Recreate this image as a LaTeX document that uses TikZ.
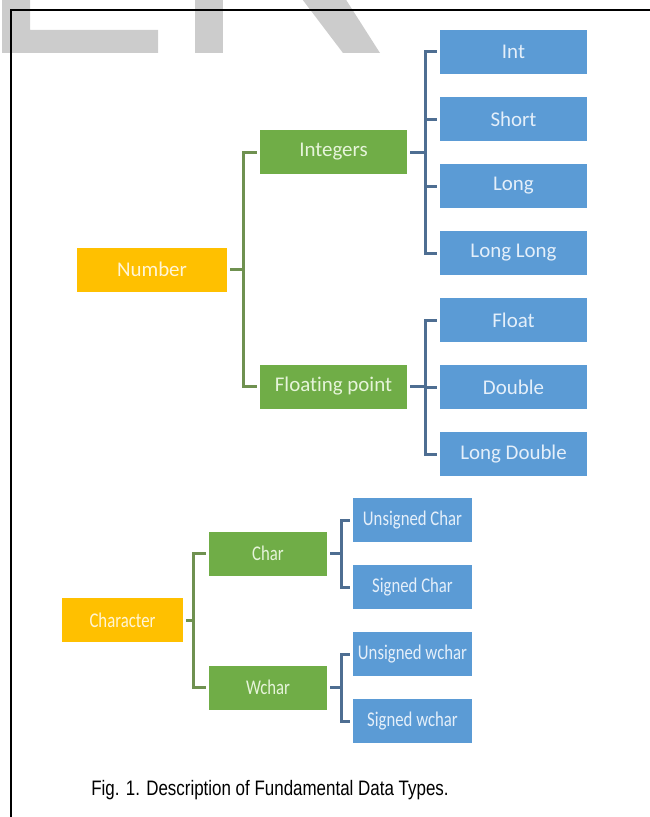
\documentclass[tikz,border=0pt]{standalone}
\usepackage{fontspec}
\setmainfont{Liberation Sans}
\newfontfamily\boxfont[Ligatures=NoCommon]{Carlito}
\newfontfamily\narrowboxfont[FakeStretch=0.8, Ligatures=NoCommon]{Carlito}
\newfontfamily\capfont[FakeStretch=0.81]{Liberation Sans}
\definecolor{typeorange}{HTML}{FFC000}
\definecolor{typeorangetext}{HTML}{FFF5D6}
\definecolor{typegreen}{HTML}{70AD47}
\definecolor{typegreentext}{HTML}{E6F4DA}
\definecolor{typeblue}{HTML}{5B9BD5}
\definecolor{typebluetext}{HTML}{E4EFFA}
\definecolor{typegreenline}{HTML}{6F9150}
\definecolor{typeblueline}{HTML}{4E6E92}
\definecolor{typemark}{HTML}{CCCCCC}

\begin{document}
\begin{tikzpicture}[x=1bp, y=-1bp,
  tbox/.style={inner sep=0pt, minimum height=44bp, font=\boxfont\fontsize{21}{23}\selectfont},
  tsmall/.style={font=\narrowboxfont\fontsize{21}{23}\selectfont},
  root/.style={tbox, fill=typeorange, text=typeorangetext},
  mid/.style={tbox, fill=typegreen, text=typegreentext},
  leaf/.style={tbox, fill=typeblue, text=typebluetext},
  gline/.style={draw=typegreenline, line width=3bp},
  bline/.style={draw=typeblueline, line width=3bp}
]
\useasboundingbox (0,0) rectangle (650,817);
\fill[typemark] (2,-5) -- (30,-5) -- (30,30) -- (158,30) -- (158,53) -- (2,53) -- cycle;
\fill[typemark] (195,-5) rectangle (223,53);
\fill[typemark] (299,-5) -- (343,-5) -- (380,53) -- (343,53) -- cycle;
\draw[line width=2bp] (11,818) -- (11,10) -- (651,10);

\node[root, minimum width=150bp] (num) at (152,269.5) {Number};
\node[mid, minimum width=147bp] (intg) at (333.5,152) {Integers};
\node[mid, minimum width=147bp] (flt) at (333.5,386.5) {Floating point};
\node[leaf, minimum width=147bp] (t1) at (513.5,52) {Int};
\node[leaf, minimum width=147bp] (t2) at (513.5,119) {Short};
\node[leaf, minimum width=147bp] (t3) at (513.5,186) {Long};
\node[leaf, minimum width=147bp] (t4) at (513.5,253) {Long Long};
\node[leaf, minimum width=147bp] (t5) at (513.5,320) {Float};
\node[leaf, minimum width=147bp] (t6) at (513.5,387) {Double};
\node[leaf, minimum width=147bp] (t7) at (513.5,454) {Long Double};

\node[root, tsmall, minimum width=121bp] (chr) at (122.5,620) {Character};
\node[mid, tsmall, minimum width=118bp] (ch) at (268,553.5) {Char};
\node[mid, tsmall, minimum width=118bp] (wch) at (268,687.5) {Wchar};
\node[leaf, tsmall, minimum width=119bp] (c1) at (412.5,520) {Unsigned Char};
\node[leaf, tsmall, minimum width=119bp] (c2) at (412.5,587) {Signed Char};
\node[leaf, tsmall, minimum width=119bp] (c3) at (412.5,654) {Unsigned wchar};
\node[leaf, tsmall, minimum width=119bp] (c4) at (412.5,721) {Signed wchar};

\foreach \n in {intg,flt}
  \draw[gline] ([xshift=3bp]num.east) -- ++(13,0) |- ([xshift=-3bp]\n.west);
\foreach \n in {t1,t2,t3,t4}
  \draw[bline] ([xshift=3bp]intg.east) -- ++(15,0) |- ([xshift=-3bp]\n.west);
\foreach \n in {t5,t6,t7}
  \draw[bline] ([xshift=3bp]flt.east) -- ++(15,0) |- ([xshift=-3bp]\n.west);
\foreach \n in {ch,wch}
  \draw[gline] ([xshift=3bp]chr.east) -- ++(7,0) |- ([xshift=-3bp]\n.west);
\foreach \n in {c1,c2}
  \draw[bline] ([xshift=3bp]ch.east) -- ++(11,0) |- ([xshift=-3bp]\n.west);
\foreach \n in {c3,c4}
  \draw[bline] ([xshift=3bp]wch.east) -- ++(11,0) |- ([xshift=-3bp]\n.west);

\node[font=\capfont\fontsize{21}{24}\selectfont] (cap) at (270,790) {Fig. 1. Description of Fundamental Data Types.};
\end{tikzpicture}
\end{document}
